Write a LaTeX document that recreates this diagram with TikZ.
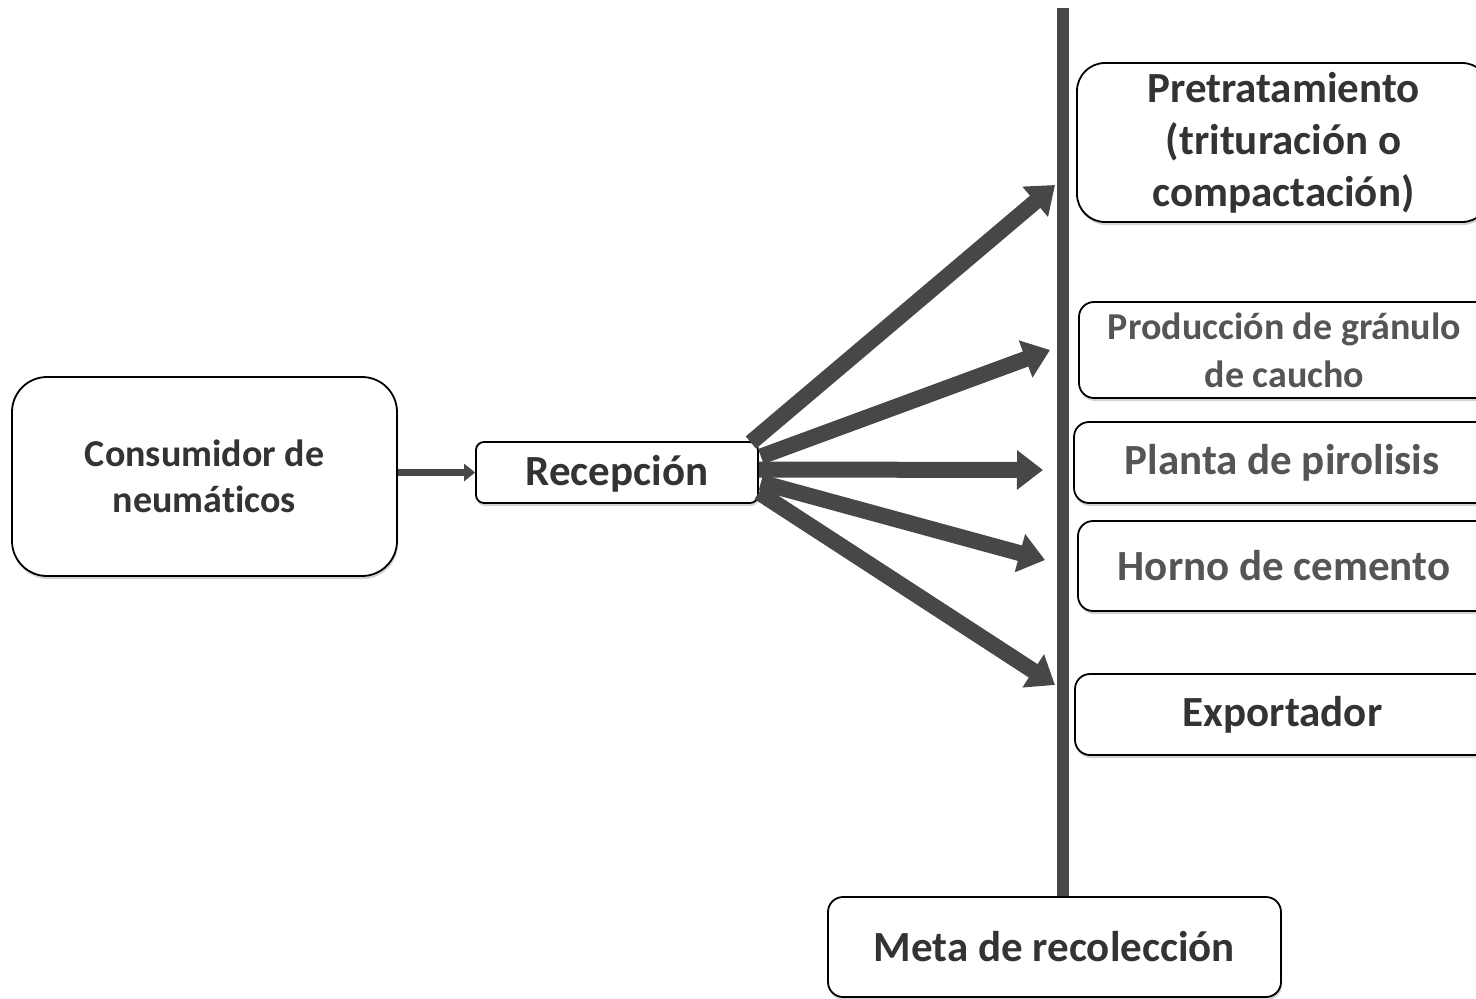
\documentclass[tikz,border=0pt]{standalone}
\usepackage{fontspec}
\setmainfont{Carlito}[Ligatures=NoCommon]
\usetikzlibrary{arrows.meta,shadows}
\definecolor{txtdark}{HTML}{333333}
\definecolor{txtgrey}{HTML}{555555}
\definecolor{arrowgrey}{HTML}{474747}
\begin{document}
\begin{tikzpicture}[x=1pt,y=-1pt,
  box/.style={draw=black, line width=1.8pt, fill=white, inner sep=0pt, align=center,
    drop shadow={opacity=0.35, shadow xshift=1pt, shadow yshift=-3pt}},
  boldtxt/.style={text=txtdark, font=\bfseries\fontsize{43}{52}\selectfont},
  greytxt/.style={text=txtgrey, font=\bfseries\fontsize{43}{52}\selectfont},
  fanarrow/.style={draw=arrowgrey, line width=16pt, -{Triangle[width=38pt,length=26pt]}},
]
\useasboundingbox (0,0) rectangle (1476,999);

% nodes
\node[box, rounded corners=35pt, minimum width=385pt, minimum height=199pt,
      text=txtdark, font=\bfseries\fontsize{38}{46}\selectfont]
  (cons) at (204.5,476.5) {Consumidor de\\neumáticos};
\node[box, boldtxt, rounded corners=8pt, minimum width=282pt, minimum height=61pt,
      text depth=4pt]
  (rec) at (617,472.5) {Recepción};
\node[box, boldtxt, rounded corners=28pt, minimum width=413pt, minimum height=159pt]
  (pre) at (1283.5,142.5) {Pretratamiento\\(trituración o\\compactación)};
\node[box, rounded corners=15pt, minimum width=411pt, minimum height=96pt,
      text=txtgrey, font=\bfseries\fontsize{38}{48}\selectfont]
  (prod) at (1284.5,350) {Producción de gránulo\\de caucho};
\node[box, greytxt, rounded corners=15pt, minimum width=416pt, minimum height=81pt]
  (pla) at (1282,462.5) {Planta de pirolisis};
\node[box, greytxt, rounded corners=15pt, minimum width=412pt, minimum height=90pt]
  (hor) at (1284,566) {Horno de cemento};
\node[box, boldtxt, rounded corners=15pt, minimum width=415pt, minimum height=81pt]
  (exp) at (1282.5,714.5) {Exportador};
\node[box, boldtxt, rounded corners=15pt, minimum width=453pt, minimum height=100pt]
  (meta) at (1054.5,947) {Meta de recolección};

% vertical bar
\coordinate (bartop) at (1063,8);
\draw[arrowgrey, line width=12pt] (bartop) -- (meta.north -| bartop);

% small arrow
\draw[arrowgrey, line width=7pt, -{Triangle[width=17pt,length=11pt]}]
  (cons.east |- rec.west) -- (rec.west);

% fan arrows
\coordinate (t1) at (1055,185);
\coordinate (t2) at (1050,350);
\coordinate (t3) at (1043,470);
\coordinate (t4) at (1045,560);
\coordinate (t5) at (1055,685);
\draw[fanarrow] ([shift={(-8,-30)}]rec.east) -- (t1);
\draw[fanarrow] ([shift={(2,-16)}]rec.east) -- (t2);
\draw[fanarrow] ([shift={(0,-3)}]rec.east) -- (t3);
\draw[fanarrow] ([shift={(2,10)}]rec.east) -- (t4);
\draw[fanarrow] ([shift={(0,20)}]rec.east) -- (t5);
\end{tikzpicture}
\end{document}
